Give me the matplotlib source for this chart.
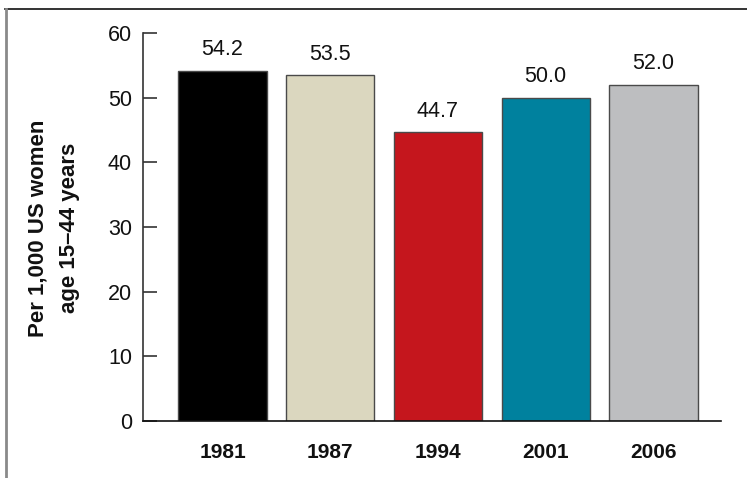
import matplotlib
matplotlib.use("Agg")
import matplotlib.pyplot as plt
from matplotlib.lines import Line2D

plt.rcParams['font.family'] = ['Liberation Sans', 'DejaVu Sans']

years = ["1981", "1987", "1994", "2001", "2006"]
rates = [54.2, 53.5, 44.7, 50.0, 52.0]
colors = ["#000000", "#dbd7bf", "#c5161d", "#00819e", "#bdbec0"]
yticks = [0, 10, 20, 30, 40, 50, 60]

W, H = 747, 478
fig = plt.figure(figsize=(W / 100, H / 100), dpi=100)
ax = fig.add_axes([143 / W, (H - 421) / H, (721 - 143) / W, (421 - 33) / H])

x = list(range(len(years)))
ax.bar(x, rates, width=0.82, color=colors, edgecolor="#4a4a4a", linewidth=1.0, zorder=2)

for xi, v in zip(x, rates):
    ax.annotate(f"{v:.1f}", (xi, v), xytext=(0, 7.5), textcoords="offset points",
                ha="center", va="bottom", fontsize=15.5, color="#111111")

ax.set_xlim(-0.738, 4.627)
ax.set_ylim(0, 60)
ax.set_yticks(yticks)
ax.set_yticklabels([str(t) for t in yticks], fontsize=15.5, color="#111111")
ax.set_xticks(x)
ax.set_xticklabels(years, fontsize=15, fontweight="bold", color="#111111")
ax.tick_params(axis="x", length=0, pad=16)
ax.tick_params(axis="y", direction="in", length=10, width=1.2, color="#333333", pad=8)

for side in ("top", "right"):
    ax.spines[side].set_visible(False)
ax.spines["left"].set_color("#333333")
ax.spines["left"].set_linewidth(1.2)
ax.spines["bottom"].set_color("#111111")
ax.spines["bottom"].set_linewidth(1.2)

# axis title, placed in figure pixels
fig.text(54 / W, 1 - 228 / H, "Per 1,000 US women\nage 15\u201344 years", fontsize=16,
         fontweight="bold", linespacing=1.68, rotation=90, ha="center", va="center",
         color="#111111")

# outer frame: top rule and left rule
fig.add_artist(Line2D([5 / W, 1.0], [1 - 9 / H, 1 - 9 / H], color="#111111",
                      linewidth=1.2, transform=fig.transFigure))
fig.add_artist(Line2D([6 / W, 6 / W], [1 - 9 / H, 0], color="#8a8a8a",
                      linewidth=2.0, transform=fig.transFigure))

fig.savefig("out.png", dpi=100)
